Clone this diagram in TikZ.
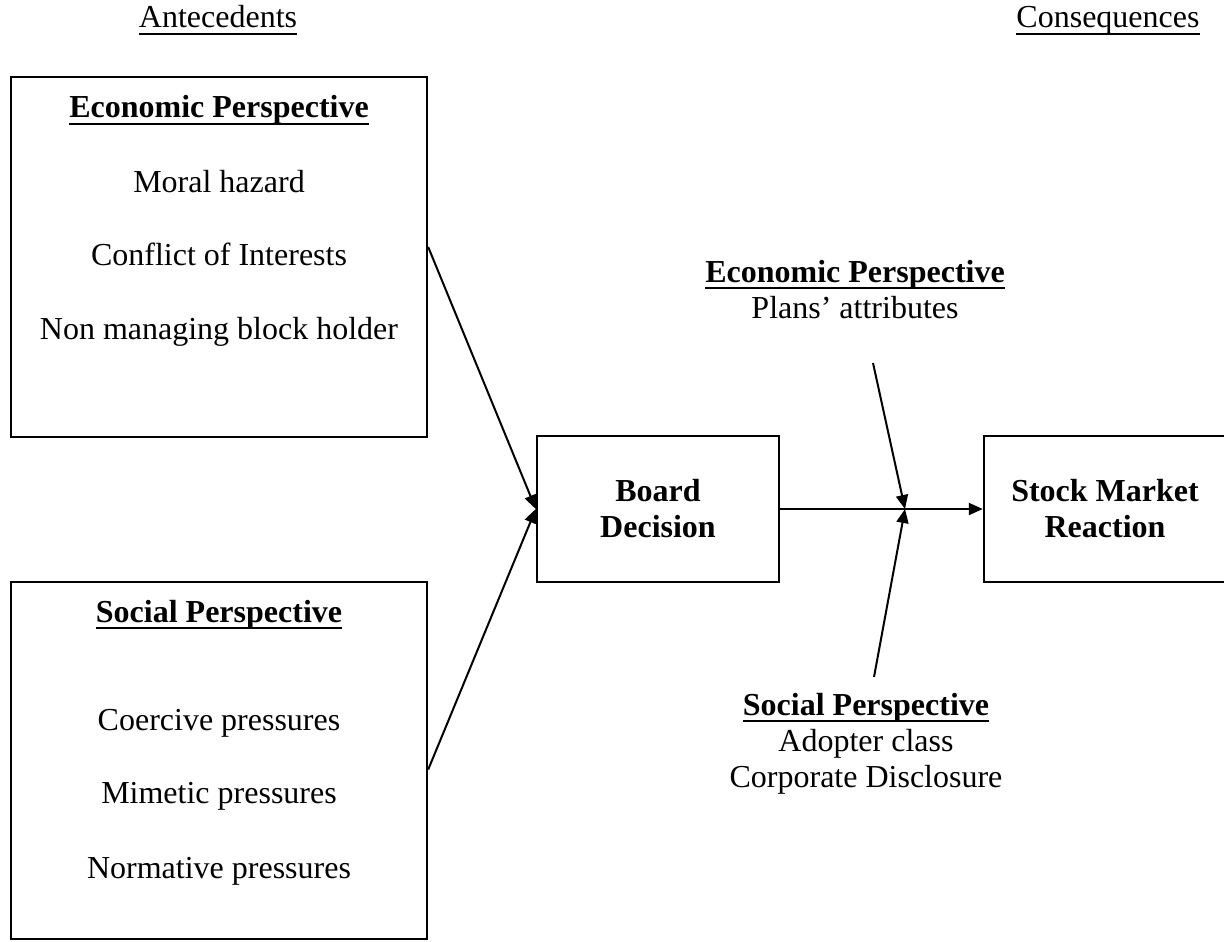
\documentclass[tikz,border=0pt]{standalone}
\usepackage{fontspec}
\setmainfont{Liberation Serif}
\usepackage{tikz}
\usetikzlibrary{arrows.meta}
\usetikzlibrary{positioning}

\newsavebox{\ulbox}
\newcommand{\uln}[1]{\sbox{\ulbox}{#1}\rlap{\rule[-3.6pt]{\wd\ulbox}{1pt}}\usebox{\ulbox}}

\begin{document}
\begin{tikzpicture}[x=0.5pt,y=-0.5pt,>={Triangle[length=7pt,width=6pt]},
  font=\fontsize{16}{18}\selectfont,
  box/.style={draw,line width=1.2pt,inner sep=0pt},
  bigbox/.style={box,minimum width=208pt},
  midbox/.style={box,minimum width=121pt,minimum height=73pt,align=center,
    font=\fontsize{16}{18}\selectfont\bfseries},
  txt/.style={anchor=base,inner sep=0pt},
  head/.style={txt,font=\fontsize{16}{18}\selectfont\bfseries},
  line/.style={draw,line width=1pt}]

  \useasboundingbox (0,0) rectangle (1224,941);

  \node[txt] (ante) at (218,28) {\uln{Antecedents}};
  \node[txt] (cons) at (1108,28) {\uln{Consequences}};

  % antecedents
  \node[bigbox,minimum height=180pt] (ecobox) at (219,257) {};
  \node[head] (ecohead) at (219,118) {\uln{Economic Perspective}};
  \node[txt] (moral) [below=37pt of ecohead.base,anchor=base] {Moral hazard};
  \node[txt] (conflict) [below=36.5pt of moral.base,anchor=base] {Conflict of Interests};
  \node[txt] (blockholder) [below=37pt of conflict.base,anchor=base] {Non managing block holder};

  \node[bigbox,minimum height=178.5pt] (socbox) at (219,760.5) {};
  \node[head] (sochead) at (219,622) {\uln{Social Perspective}};
  \node[txt] (coercive) [below=54pt of sochead.base,anchor=base] {Coercive pressures};
  \node[txt] (mimetic) [below=36.5pt of coercive.base,anchor=base] {Mimetic pressures};
  \node[txt] (normative) [below=37.5pt of mimetic.base,anchor=base] {Normative pressures};

  % decision and reaction
  \node[midbox] (board) at (658,509) {Board\\Decision};
  \node[midbox] (stock) at (1105,509) {Stock Market\\Reaction};

  % consequences
  \node[head] (ecoright) at (855,282) {\uln{Economic Perspective}};
  \node[txt] (plans) [below=18pt of ecoright.base,anchor=base] {Plans' attributes};
  \node[head] (socright) at (866,715) {\uln{Social Perspective}};
  \node[txt] (adopter) [below=18pt of socright.base,anchor=base] {Adopter class};
  \node[txt] (disclosure) [below=18pt of adopter.base,anchor=base] {Corporate Disclosure};

  \coordinate (join) at (905,509);
  \coordinate (planstail) at (873,363);
  \coordinate (soctail) at (874,677);

  \draw[line,->] ([yshift=5pt]ecobox.east) -- (board.west);
  \draw[line,->] ([yshift=-4.5pt]socbox.east) -- (board.west);
  \draw[line,->] (board.east) -- (stock.west);
  \draw[line,->] (planstail) -- (join);
  \draw[line,->] (soctail) -- (join);
\end{tikzpicture}
\end{document}
